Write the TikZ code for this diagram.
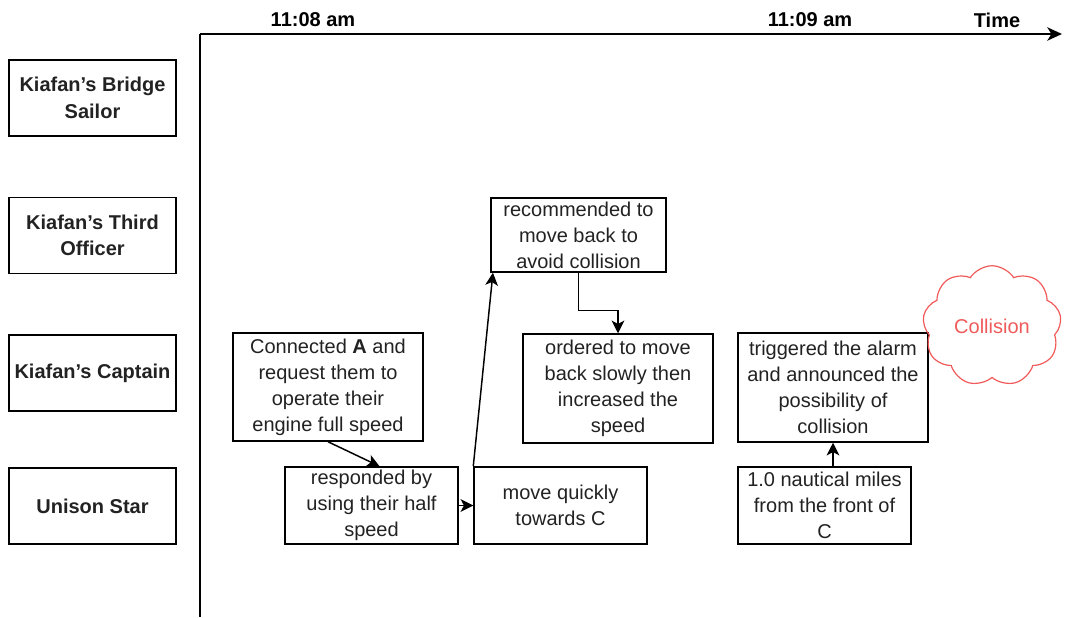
\documentclass[tikz,border=0pt]{standalone}
\usepackage{fontspec}
\setmainfont{Liberation Sans}
\usetikzlibrary{shapes.symbols,arrows.meta}
\definecolor{ink}{HTML}{222222}
\definecolor{alarm}{HTML}{F05A5A}
\begin{document}
\begin{tikzpicture}[x=0.75pt,y=-0.75pt,
  lane/.style={draw=black, line width=1.1pt, minimum width=125.25pt, minimum height=57pt,
    inner sep=0pt, align=center, text=ink,
    font=\fontsize{15}{20}\selectfont\bfseries},
  event/.style={draw=black, line width=1.1pt, inner sep=0pt, align=center, text=ink,
    font=\fontsize{15}{19.5}\selectfont},
  tick/.style={font=\fontsize{15}{18}\selectfont\bfseries, text=black, inner sep=0pt},
  link/.style={draw=black, line width=1.1pt, -{Stealth[length=9.5pt,width=9.5pt,inset=2.5pt]}},
  axisline/.style={draw=black, line width=1.3pt},
]
\useasboundingbox (0,0) rectangle (1066,617);

% swim-lane headings
\node[lane] (sailor)  at (92.5,98)    {Kiafan’s Bridge\\Sailor};
\node[lane] (officer) at (92.5,235.5) {Kiafan’s Third\\Officer};
\node[lane] (captain) at (92.5,373)   {Kiafan’s Captain};
\node[lane] (unison)  at (92.5,506)   {Unison Star};

% time axes
\coordinate (origin) at (200,34);
\coordinate (tend) at (1062,34);
\coordinate (vend) at (200,617);
\draw[axisline] (vend) -- (origin);
\draw[axisline, -{Stealth[length=11pt,width=10pt,inset=3pt]}] (origin) -- (tend);
\node[tick] (t1) at (313,20) {11:08 am};
\node[tick] (t2) at (810,20) {11:09 am};
\node[tick] (tl) at (997,20) {Time};

% events
\node[event, minimum width=142.5pt, minimum height=81pt] (conn) at (328,387)
  {Connected \textbf{A} and\\request them to\\operate their\\engine full speed};
\node[event, minimum width=129.75pt, minimum height=57.75pt] (resp) at (371.5,505.5)
  {responded by\\using their half\\speed};
\node[event, minimum width=129.75pt, minimum height=57.75pt] (moveq) at (560.5,505.5)
  {move quickly\\towards C};
\node[event, minimum width=131.25pt, minimum height=55.5pt] (recom) at (578.5,235)
  {recommended to\\move back to\\avoid collision};
\node[event, minimum width=142.5pt, minimum height=81.75pt] (order) at (618,388.5)
  {ordered to move\\back slowly then\\increased the\\speed};
\node[event, minimum width=142.5pt, minimum height=81.75pt] (trig) at (833,387.5)
  {triggered the alarm\\and announced the\\possibility of\\collision};
\node[event, minimum width=129.75pt, minimum height=57.75pt] (naut) at (824.5,505.5)
  {1.0 nautical miles\\from the front of\\C};

% collision cloud
\node[cloud, draw=alarm, line width=0.9pt, cloud puffs=9, cloud puff arc=115,
  minimum width=104pt, minimum height=80pt, inner sep=0pt, text=alarm,
  font=\fontsize{15}{18}\selectfont] (crash) at (992,326) {Collision};

% connectors
\draw[link] (conn.south) -- ([xshift=6pt]resp.north);
\draw[link] (resp.east) -- (moveq.west);
\draw[link] (moveq.north west) -- ([xshift=2pt]recom.south west);
\draw[link] (recom.south) -- ++(0,38) -| (order.north);
\draw[link] (trig.south |- naut.north) -- (trig.south);
\end{tikzpicture}
\end{document}
